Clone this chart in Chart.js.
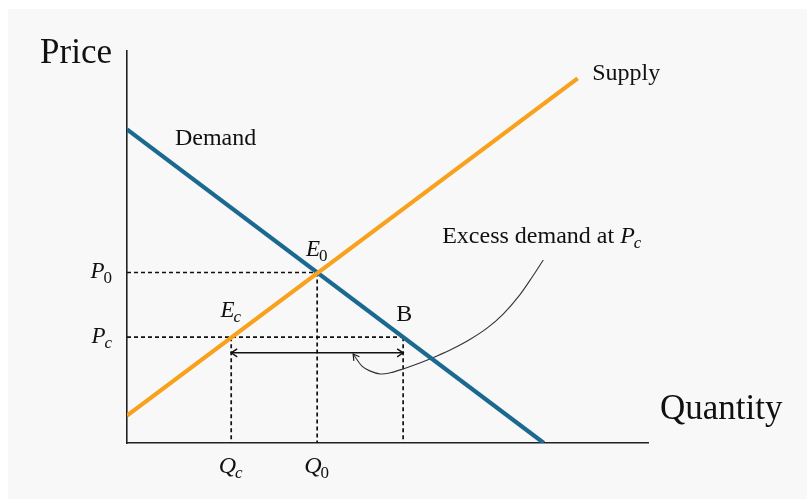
<!DOCTYPE html>
<html>
<head>
<meta charset="utf-8">
<script src="https://cdn.jsdelivr.net/npm/chart.js@4"></script>
<style>
  html, body { margin: 0; background: #fff; }
  canvas { display: block; }
</style>
</head>
<body>
<canvas id="chart" width="807" height="499"></canvas>
<script>
// curves (quantity, price)
const demandQ = [0, 80];
const demandP = [80, 0];
const supplyQ = [0, 86.5];
const supplyP = [7, 93];

// equilibrium, ceiling price and point B
const q0 = 36.5, p0 = 43.5;
const qc = 20, pc = 27, qB = 53;
const arrowP = 23;

// pointer from the "excess demand" note
const curveQ = [79.9, 77.9, 75.4, 72.2, 69.1, 65.8, 62.6, 59.5, 56.2, 53.0, 50.5, 48.6, 46.6, 45.1, 43.4];
const curveP = [46.7, 42.6, 37.8, 32.9, 29.3, 26.4, 24.1, 22.2, 20.4, 18.9, 17.9, 17.6, 18.4, 19.6, 22.7];

// tick labels: [main letter, subscript]
const qTicks = [qc, q0];
const qTickLabels = [['Q', 'c'], ['Q', '0']];
const pTicks = [p0, pc];
const pTickLabels = [['P', '0'], ['P', 'c']];

const FONT = '"Liberation Serif", "Times New Roman", serif';
const BLUE = '#1b6891';
const ORANGE = '#f8a11d';

function pts(xs, ys) {
    return xs.map((x, i) => ({ x: x, y: ys[i] }));
}

function dashed(data) {
    return {
        data: data, showLine: true, pointRadius: 0, borderColor: '#111',
        borderWidth: 1.7, borderDash: [4, 3], order: 3
    };
}

// main letter in italic with a smaller subscript
function subText(ctx, main, sub, x, y, size, align) {
    ctx.font = 'italic ' + size + 'px ' + FONT;
    const w1 = ctx.measureText(main).width;
    const subSize = Math.round(size * 0.72);
    const subFont = (/[0-9]/.test(sub) ? '' : 'italic ') + subSize + 'px ' + FONT;
    ctx.font = subFont;
    const w2 = ctx.measureText(sub).width;
    let x0 = x;
    if (align === 'center') x0 = x - (w1 + w2) / 2;
    if (align === 'right') x0 = x - (w1 + w2);
    ctx.textAlign = 'left';
    ctx.font = 'italic ' + size + 'px ' + FONT;
    ctx.fillText(main, x0, y);
    ctx.font = subFont;
    ctx.fillText(sub, x0 + w1 - 1, y + size * 0.2);
}

function arrowHead(ctx, tipX, tipY, fromX, fromY, len, half) {
    const a = Math.atan2(tipY - fromY, tipX - fromX);
    ctx.beginPath();
    ctx.moveTo(tipX - len * Math.cos(a) + half * Math.sin(a), tipY - len * Math.sin(a) - half * Math.cos(a));
    ctx.lineTo(tipX, tipY);
    ctx.lineTo(tipX - len * Math.cos(a) - half * Math.sin(a), tipY - len * Math.sin(a) + half * Math.cos(a));
    ctx.stroke();
}

const panelPlugin = {
    id: 'panel',
    beforeDraw(chart) {
        const ctx = chart.ctx;
        ctx.save();
        ctx.fillStyle = '#f8f8f8';
        ctx.fillRect(8, 9, chart.width - 8, chart.height - 9);
        ctx.restore();
    }
};

const labelPlugin = {
    id: 'labels',
    afterDatasetsDraw(chart) {
        const ctx = chart.ctx;
        const xs = chart.scales.x, ys = chart.scales.y;
        const area = chart.chartArea;
        const X = v => xs.getPixelForValue(v);
        const Y = v => ys.getPixelForValue(v);
        ctx.save();
        ctx.fillStyle = '#111';
        ctx.strokeStyle = '#111';

        // arrow heads on the excess demand bar
        ctx.lineWidth = 1.4;
        arrowHead(ctx, X(qc), Y(arrowP), X(qB), Y(arrowP), 6, 4);
        arrowHead(ctx, X(qB), Y(arrowP), X(qc), Y(arrowP), 6, 4);
        // arrow head on the pointer
        ctx.lineWidth = 1.1;
        const n = curveQ.length;
        arrowHead(ctx, X(curveQ[n - 1]), Y(curveP[n - 1]), X(curveQ[n - 2]), Y(curveP[n - 2]), 6, 3.5);

        // axis titles
        ctx.textBaseline = 'alphabetic';
        ctx.font = '35px ' + FONT;
        ctx.textAlign = 'right';
        ctx.fillText('Price', area.left - 15, area.top + 12);
        ctx.textAlign = 'left';
        ctx.fillText('Quantity', area.right + 12, area.bottom - 24);

        // ticks
        qTicks.forEach((v, i) => subText(ctx, qTickLabels[i][0], qTickLabels[i][1], X(v), area.bottom + 30, 24, 'center'));
        pTicks.forEach((v, i) => subText(ctx, pTickLabels[i][0], pTickLabels[i][1], area.left - 14, Y(v) + 6, 23, 'right'));

        // point labels
        subText(ctx, 'E', '0', X(q0), Y(p0) - 16, 23, 'center');
        subText(ctx, 'E', 'c', X(qc), Y(pc) - 20, 23, 'center');
        ctx.font = '24px ' + FONT;
        ctx.textAlign = 'center';
        ctx.fillText('B', X(qB) + 1, Y(pc) - 16);

        // curve names
        ctx.textAlign = 'left';
        ctx.fillText('Demand', X(9.2), Y(76));
        ctx.fillText('Supply', X(89.3), Y(92.6));
        const note = 'Excess demand at ';
        ctx.fillText(note, X(60.5), Y(51));
        const w = ctx.measureText(note).width;
        subText(ctx, 'P', 'c', X(60.5) + w, Y(51), 24, 'left');
        ctx.restore();
    }
};

new Chart(document.getElementById('chart'), {
    type: 'scatter',
    data: {
        datasets: [
            { label: 'Demand', data: pts(demandQ, demandP), showLine: true, pointRadius: 0,
              borderColor: BLUE, borderWidth: 4.2, order: 1 },
            { label: 'Supply', data: pts(supplyQ, supplyP), showLine: true, pointRadius: 0,
              borderColor: ORANGE, borderWidth: 4.2, order: 0 },
            dashed([{ x: 0, y: p0 }, { x: q0, y: p0 }]),
            dashed([{ x: q0, y: p0 }, { x: q0, y: 0 }]),
            dashed([{ x: 0, y: pc }, { x: qB, y: pc }]),
            dashed([{ x: qc, y: pc }, { x: qc, y: 0 }]),
            dashed([{ x: qB, y: pc }, { x: qB, y: 0 }]),
            { data: [{ x: qc, y: arrowP }, { x: qB, y: arrowP }], showLine: true, pointRadius: 0,
              borderColor: '#111', borderWidth: 1.5, order: 2 },
            { data: pts(curveQ, curveP), showLine: true, pointRadius: 0, tension: 0.35,
              borderColor: '#333', borderWidth: 1.1, order: 2 }
        ]
    },
    options: {
        responsive: false,
        animation: false,
        layout: { padding: { left: 127, top: 51, right: 159, bottom: 56 } },
        plugins: { legend: { display: false }, tooltip: { enabled: false } },
        scales: {
            x: {
                type: 'linear', min: 0, max: 100,
                grid: { display: false, drawTicks: false },
                ticks: { display: false },
                border: { display: true, color: '#222', width: 1.6 }
            },
            y: {
                type: 'linear', min: 0, max: 100,
                grid: { display: false, drawTicks: false },
                ticks: { display: false },
                border: { display: true, color: '#222', width: 1.6 }
            }
        }
    },
    plugins: [panelPlugin, labelPlugin]
});
</script>
</body>
</html>
